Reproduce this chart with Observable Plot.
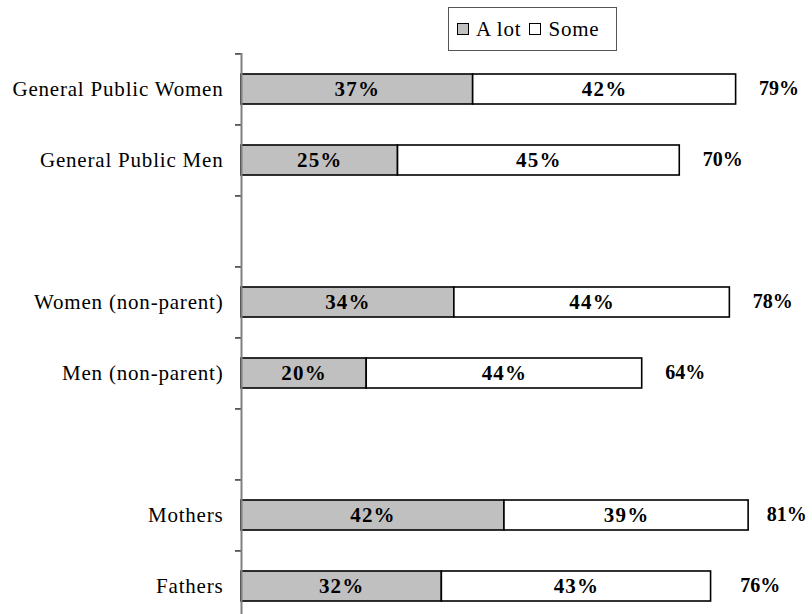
<!DOCTYPE html>
<html>
<head>
<meta charset="utf-8">
<script src="https://cdn.jsdelivr.net/npm/d3@7"></script>
<script src="https://cdn.jsdelivr.net/npm/@observablehq/plot@0.6"></script>
<style>
  body { margin: 0; background: #fff; }
  #chart { position: relative; width: 812px; height: 614px; font-family: "Liberation Serif", "Times New Roman", serif; }
  #chart svg { display: block; }
  #chart svg [aria-label="y-axis tick label"] text { letter-spacing: 0.8px; }
  #chart svg .seg-label text { letter-spacing: 1.2px; }
  .legend {
    position: absolute; left: 448px; top: 7px; width: 169px; height: 44px;
    box-sizing: border-box; border: 1.5px solid #555; background: #fff;
    display: flex; align-items: center; padding-left: 8px;
    font-size: 21px; letter-spacing: 0.8px; color: #000; white-space: nowrap;
  }
  .legend .sw { display: inline-block; width: 10px; height: 10px; border: 1.5px solid #000; margin-right: 7px; }
  .legend .item { display: inline-flex; align-items: center; margin-right: 8px; }
</style>
</head>
<body>
<div id="chart"></div>
<script>
// Survey groups, top to bottom
const groups = ["General Public Women", "General Public Men", "Women (non-parent)", "Men (non-parent)", "Mothers", "Fathers"];
// Share answering "A lot" and "Some" (percent)
const aLot = [37, 25, 34, 20, 42, 32];
const some = [42, 45, 44, 44, 39, 43];
const totals = [79, 70, 78, 64, 81, 76];
// Row layout, with empty spacer rows between the three pairs
const rowOrder = ["General Public Women", "General Public Men", "gap1", "Women (non-parent)", "Men (non-parent)", "gap2", "Mothers", "Fathers"];
const seriesNames = ["A lot", "Some"];
const seriesColors = ["#c0c0c0", "#ffffff"];

const segments = groups.flatMap((g, i) => [
  {group: g, series: seriesNames[0], value: aLot[i]},
  {group: g, series: seriesNames[1], value: some[i]}
]);
const rows = groups.map((g, i) => ({group: g, total: totals[i]}));

const yTop = 53, yBottom = 622;
const step = (yBottom - yTop) / rowOrder.length;
const xMax = 91.2;
// total labels are kept inside the plot's right edge
const totalLabelLimit = 80.2;
const font = "Liberation Serif";

const chart = Plot.plot({
  width: 812,
  height: 614,
  marginLeft: 241,
  marginRight: 0,
  marginTop: yTop,
  marginBottom: 0,
  style: {fontFamily: font, fontSize: "21px", background: "#fff", color: "#000"},
  x: {domain: [0, xMax], axis: null},
  y: {domain: rowOrder, range: [yTop, yBottom], paddingInner: 0.58, paddingOuter: 0.29, axis: null},
  color: {domain: seriesNames, range: seriesColors},
  marks: [
    Plot.barX(segments, Plot.stackX({
      x: "value", y: "group", fill: "series", order: seriesNames,
      stroke: "#000", strokeWidth: 1.6
    })),
    Plot.text(segments, Plot.stackX({
      x: "value", y: "group", z: "series", order: seriesNames,
      text: d => `${d.value}%`, fontWeight: "bold", fontSize: 21, fill: "#000",
      className: "seg-label"
    })),
    Plot.text(rows, {
      x: d => Math.min(d.total, totalLabelLimit), y: "group", text: d => `${d.total}%`,
      textAnchor: "start", dx: 23, dy: -1, fontWeight: "bold", fontSize: 20, fill: "#000"
    }),
    // category labels
    Plot.axisY({
      tickSize: 0, tickPadding: 18, fontSize: 21, label: null,
      tickFormat: d => d.startsWith("gap") ? "" : d
    }),
    // tick marks between categories
    Plot.axisY({tickSize: 6, text: null, label: null, dy: -step / 2, stroke: "#000", strokeWidth: 1.2}),
    // axis line
    Plot.ruleX([0], {stroke: "#808080", strokeWidth: 2})
  ]
});

const root = document.getElementById("chart");
root.appendChild(chart);

const legend = document.createElement("div");
legend.className = "legend";
seriesNames.forEach((name, i) => {
  const item = document.createElement("span");
  item.className = "item";
  const sw = document.createElement("span");
  sw.className = "sw";
  sw.style.background = seriesColors[i];
  item.appendChild(sw);
  item.appendChild(document.createTextNode(name));
  legend.appendChild(item);
});
root.appendChild(legend);
</script>
</body>
</html>
